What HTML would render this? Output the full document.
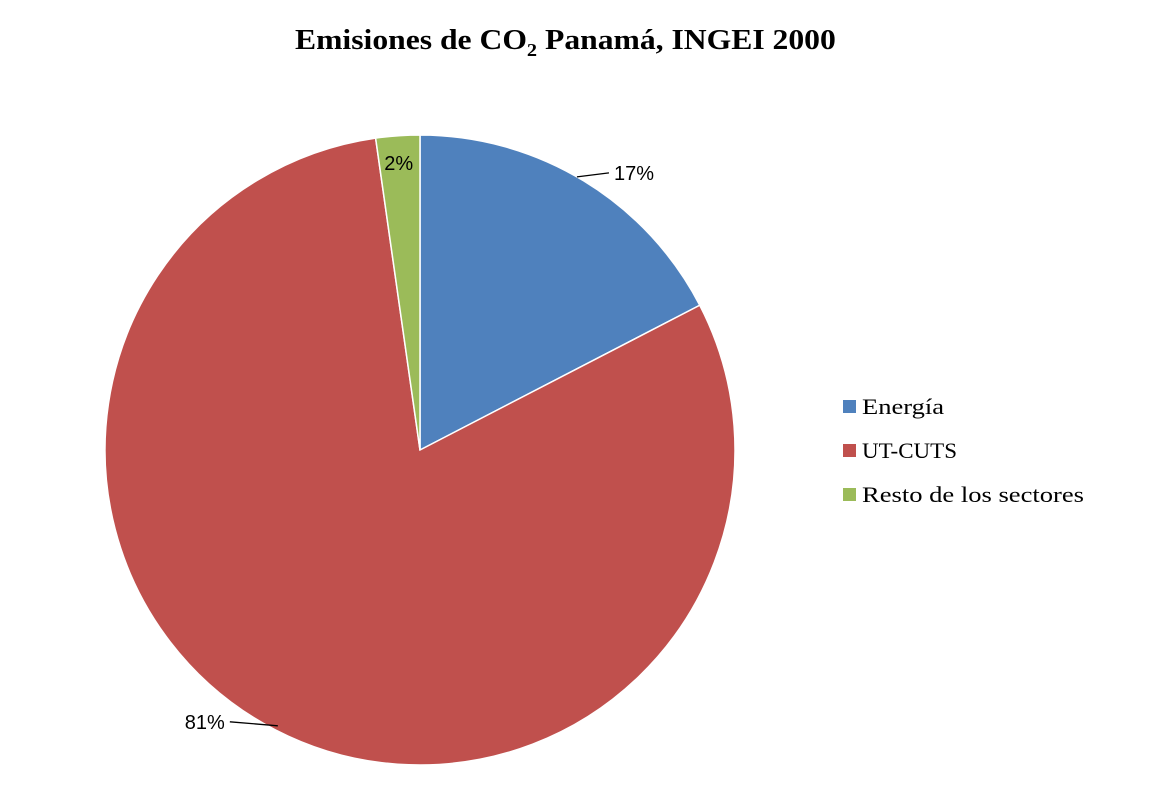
<!DOCTYPE html>
<html><head><meta charset="utf-8"><style>
body{margin:0;background:#fff;width:1152px;height:808px;overflow:hidden}
svg{display:block}
.t{font-family:"Liberation Serif",serif;font-weight:bold;font-size:28px}
.lg{font-family:"Liberation Serif",serif;font-size:22px}
.dl{font-family:"Liberation Sans",sans-serif;font-size:20px}
</style></head><body>
<svg id="c" width="1152" height="808">
<g transform="translate(295,49) scale(1.13,1)">
<text class="t" x="0" y="0">Emisiones de CO<tspan font-size="18" dy="7">2</tspan><tspan dy="-7">  Panamá, INGEI 2000</tspan></text>
</g>
<g id="slices"></g>
<g id="legend"></g>
</svg>
<script>
const categories=["Energía","UT-CUTS","Resto de los sectores"];
const values=[17.4,80.35,2.25];
const labels=["17%","81%","2%"];
const colors=["#4f81bd","#c0504d","#9bbb59"];
const ns="http://www.w3.org/2000/svg";
const cx=420,cy=450,r=315;
const total=values.reduce((a,b)=>a+b,0);
const g=document.getElementById('slices');
function pt(a,rr){return [cx+rr*Math.sin(a),cy-rr*Math.cos(a)];}
let a0=0;
values.forEach((v,i)=>{
  const a1=a0+v/total*2*Math.PI;
  const p0=pt(a0,r),p1=pt(a1,r);
  const large=(a1-a0)>Math.PI?1:0;
  const p=document.createElementNS(ns,'path');
  p.setAttribute('d',`M${cx},${cy}L${p0[0]},${p0[1]}A${r},${r} 0 ${large} 1 ${p1[0]},${p1[1]}Z`);
  p.setAttribute('fill',colors[i]);
  p.setAttribute('stroke','#fff');p.setAttribute('stroke-width','1.5');
  
  
  g.appendChild(p);
  const mid=(a0+a1)/2;
  const t=document.createElementNS(ns,'text');
  t.setAttribute('class','dl');
  
  
  if(i===2){
    const q=pt(mid,r*0.91);
    t.setAttribute('x',q[0]-1);t.setAttribute('y',q[1]+6);t.setAttribute('text-anchor','middle');
  } else {
    const side=Math.sin(mid)>=0?1:-1;
    const e=side>0?pt(mid-0.025,r):pt(mid,r*0.985);
    const ex=e[0]+side*(side>0?32:48), ey=e[1]-4;
    const l=document.createElementNS(ns,'path');
    l.setAttribute('d',`M${e[0]},${e[1]}L${ex},${ey}`);
    l.setAttribute('stroke','#000');l.setAttribute('fill','none');l.setAttribute('stroke-width','1.3');
    
    
    g.appendChild(l);
    t.setAttribute('x',ex+side*5);t.setAttribute('y',ey+7);
    t.setAttribute('text-anchor',side>0?'start':'end');
  }
  t.textContent=labels[i];
  g.appendChild(t);
  a0=a1;
});
const lg=document.getElementById('legend');
const widths=[82,95,222];
categories.forEach((c,i)=>{
  const y=407+i*44;
  const s=document.createElementNS(ns,'rect');
  s.setAttribute('x',843);s.setAttribute('y',y-7);s.setAttribute('width',13);s.setAttribute('height',13);
  s.setAttribute('fill',colors[i]);
  
  
  lg.appendChild(s);
  const t=document.createElementNS(ns,'text');
  t.setAttribute('class','lg');t.setAttribute('x',862);t.setAttribute('y',y+7);
  t.setAttribute('textLength',widths[i]);t.setAttribute('lengthAdjust','spacingAndGlyphs');
  
  
  t.textContent=c;
  lg.appendChild(t);
});
</script>
</body></html>
